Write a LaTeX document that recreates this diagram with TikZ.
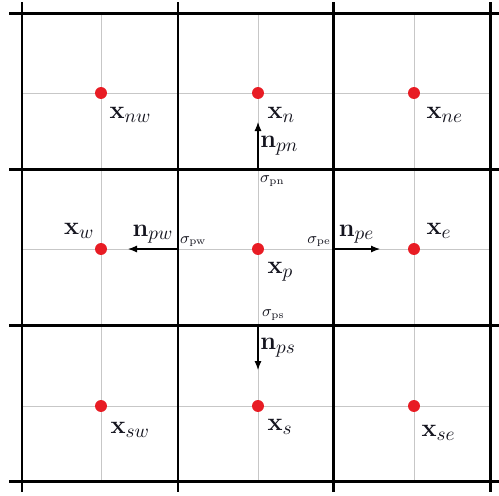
\documentclass[tikz,border=0pt]{standalone}
\usepackage{tikz}
\usetikzlibrary{arrows.meta,positioning}
\definecolor{dotred}{RGB}{232,28,36}
\definecolor{ink}{RGB}{20,20,30}
\tikzset{
  >={Latex[length=1.8mm,width=1.4mm]},
  cellwall/.style={line width=1.7pt,draw=black},
  midline/.style={draw=black!22,line width=0.5pt},
  cell pt/.style={circle,fill=dotred,inner sep=0pt,minimum size=6.8pt},
  normal/.style={->,line width=0.6pt,draw=black},
  ptlab/.style={font=\fontsize{15.5}{18}\selectfont,text=ink,inner sep=1pt},
  facelab/.style={font=\small,text=ink,inner sep=1pt},
}

\begin{document}
\begin{tikzpicture}[x=0.2mm,y=-0.2mm]
  \useasboundingbox (0,0) rectangle (499,495);
  % thin lines through the cell centres
  \foreach \x in {101,258,414} \draw[midline] (\x,13) -- (\x,481);
  \foreach \y in {93,249,406} \draw[midline] (22,\y) -- (490,\y);
  % cell walls
  \foreach \x in {22,178,333,490} \draw[cellwall] (\x,2) -- (\x,492);
  \foreach \y in {13,169,325,481} \draw[cellwall] (9,\y) -- (499,\y);
  % cell points
  \node[cell pt] (nw) at (101,93) {};
  \node[cell pt] (n)  at (258,93) {};
  \node[cell pt] (ne) at (414,93) {};
  \node[cell pt] (w)  at (101,249) {};
  \node[cell pt] (p)  at (258,249) {};
  \node[cell pt] (e)  at (414,249) {};
  \node[cell pt] (sw) at (101,406) {};
  \node[cell pt] (s)  at (258,406) {};
  \node[cell pt] (se) at (414,406) {};
  \node[ptlab,below right=1.6mm and 0.4mm of nw] (lnw) {$\mathbf{x}_{nw}$};
  \node[ptlab,below right=1.6mm and 0.6mm of n]  (ln)  {$\mathbf{x}_{n}$};
  \node[ptlab,below right=1.6mm and 1.2mm of ne] (lne) {$\mathbf{x}_{ne}$};
  \node[ptlab,above left=0.8mm and 0mm of w]     (lw)  {$\mathbf{x}_{w}$};
  \node[ptlab,below right=1.4mm and 0.6mm of p]  (lp)  {$\mathbf{x}_{p}$};
  \node[ptlab,above right=0.8mm and 1.2mm of e]  (le)  {$\mathbf{x}_{e}$};
  \node[ptlab,below right=2mm and 0.6mm of sw]   (lsw) {$\mathbf{x}_{sw}$};
  \node[ptlab,below right=1.4mm and 0.6mm of s]  (ls)  {$\mathbf{x}_{s}$};
  \node[ptlab,below right=2.6mm and 0.2mm of se] (lse) {$\mathbf{x}_{se}$};
  % faces of the cell p
  \coordinate (fn) at (258,169);
  \coordinate (fs) at (258,325);
  \coordinate (fw) at (178,249);
  \coordinate (fe) at (333,249);
  \coordinate (tn) at (258,122);
  \coordinate (ts) at (258,370);
  \coordinate (tw) at (128,249);
  \coordinate (te) at (380,249);
  \draw[normal] (fn) -- (tn) node[midway,right,ptlab] (npn) {$\mathbf{n}_{pn}$};
  \draw[normal] (fs) -- (ts) node[midway,right,ptlab] (nps) {$\mathbf{n}_{ps}$};
  \draw[normal] (fw) -- (tw) node[midway,above=0.6mm,ptlab] (npw) {$\mathbf{n}_{pw}$};
  \draw[normal] (fe) -- (te) node[midway,above=0.6mm,ptlab] (npe) {$\mathbf{n}_{pe}$};
  \node[facelab,below right=1mm and 0mm of fn]     (spn) {$\sigma_{\mathrm{pn}}$};
  \node[facelab,above right=0.5mm and 0.4mm of fs] (sps) {$\sigma_{\mathrm{ps}}$};
  \node[facelab,above right=0mm and 0mm of fw]     (spw) {$\sigma_{\mathrm{pw}}$};
  \node[facelab,above left=0mm and 0mm of fe]      (spe) {$\sigma_{\mathrm{pe}}$};
\end{tikzpicture}
\end{document}
